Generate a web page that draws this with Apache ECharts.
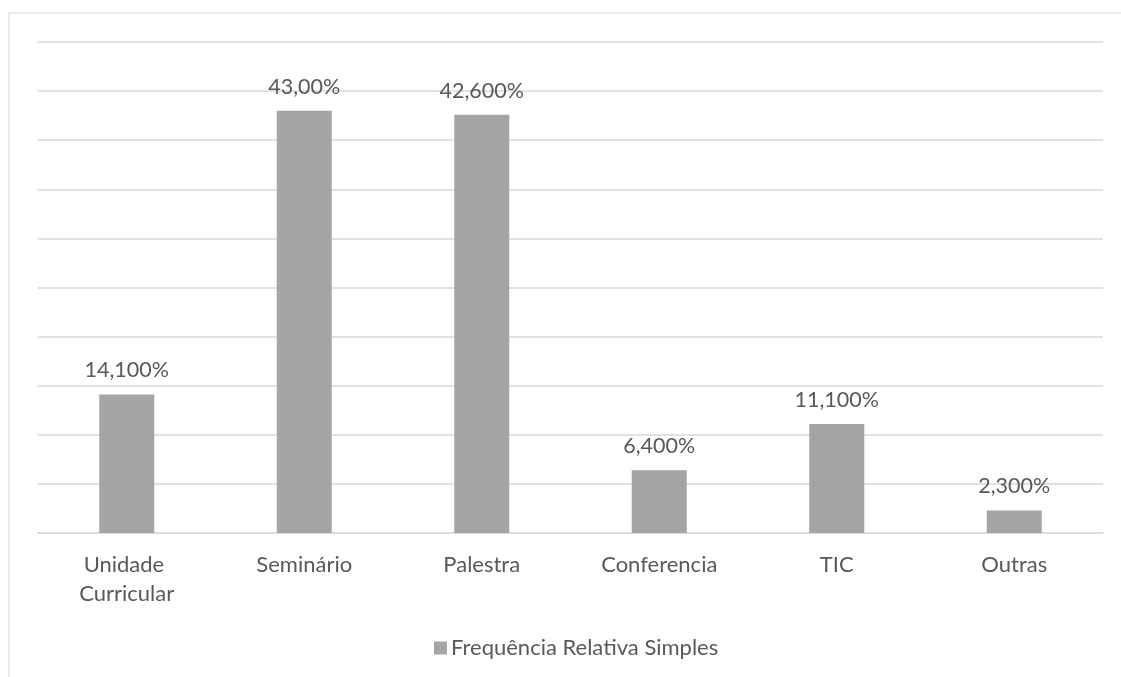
<!DOCTYPE html>
<html>
<head>
<meta charset="utf-8">
<script src="https://cdn.jsdelivr.net/npm/echarts@6/dist/echarts.min.js"></script>
<style>
  html, body { margin: 0; padding: 0; background: #ffffff; }
  #chart { width: 1121px; height: 677px; }
</style>
</head>
<body>
<div id="chart"></div>
<script>
// Tipo de atividade e frequência relativa simples (%)
const categories = ['Unidade Curricular', 'Seminário', 'Palestra', 'Conferencia', 'TIC', 'Outras'];
const values = [14.1, 43.0, 42.6, 6.4, 11.1, 2.3];
const valueLabels = ['14,100%', '43,00%', '42,600%', '6,400%', '11,100%', '2,300%'];
const seriesName = 'Frequência Relativa Simples';

const FONT = 'Lato';
const TEXT = '#595959';
const LINE = '#d9d9d9';
const BAR = '#a5a5a5';

const chart = echarts.init(document.getElementById('chart'), null, { renderer: 'canvas' });

chart.setOption({
  backgroundColor: '#ffffff',
  animation: false,
  textStyle: { fontFamily: FONT },
  graphic: [{
    type: 'rect',
    silent: true,
    shape: { x: 9, y: 13, width: 1130, height: 700 },
    style: { fill: 'none', stroke: LINE, lineWidth: 1.2 }
  }],
  grid: { left: 38, right: 18, top: 42, bottom: 144 },
  legend: {
    data: [seriesName],
    left: 429,
    top: 632,
    icon: 'rect',
    itemWidth: 13,
    itemHeight: 13,
    itemGap: 6,
    textStyle: { color: TEXT, fontSize: 22, fontFamily: FONT, padding: [0, 0, 0, -1] }
  },
  xAxis: {
    type: 'category',
    data: categories,
    axisLine: { lineStyle: { color: LINE, width: 1.5 } },
    axisTick: { show: false },
    axisLabel: {
      color: TEXT,
      fontSize: 22,
      fontFamily: FONT,
      margin: 17,
      lineHeight: 29,
      width: 150,
      overflow: 'break',
      interval: 0
    }
  },
  yAxis: {
    type: 'value',
    min: 0,
    max: 50,
    interval: 5,
    axisLine: { show: false },
    axisTick: { show: false },
    axisLabel: { show: false },
    splitLine: { lineStyle: { color: LINE, width: 1.5 } }
  },
  series: [{
    name: seriesName,
    type: 'bar',
    data: values,
    barWidth: 55,
    itemStyle: { color: BAR },
    label: {
      show: true,
      position: 'top',
      distance: 13,
      color: TEXT,
      fontSize: 21.5,
      fontFamily: FONT,
      formatter: p => valueLabels[p.dataIndex]
    }
  }]
});
</script>
</body>
</html>
